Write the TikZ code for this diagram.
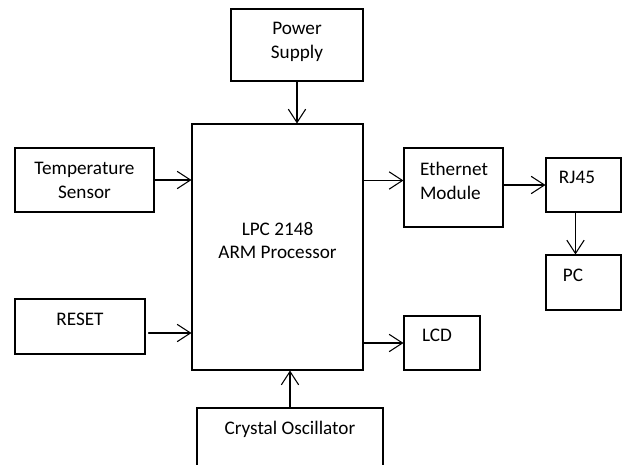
\documentclass[tikz,border=0pt]{standalone}
\usepackage{fontspec}
\setmainfont{Carlito}
\usetikzlibrary{arrows.meta,calc}
\tikzset{blk/.style 2 args={rectangle,draw,line width=.8pt,inner sep=0pt,minimum width=#1*0.75pt,minimum height=#2*0.75pt},lbl/.style={align=center,inner sep=0pt,font=\fontsize{14.4}{17.5}\selectfont},flow/.style={-{Straight Barb[length=10pt,width=13pt]},line width=.8pt},every picture/.style={line cap=round}}

\begin{document}
\begin{tikzpicture}[x=.75pt,y=-.75pt]
\useasboundingbox (0,0) rectangle (626,465);
% blocks
\node[blk={132}{72}] (psu) at (297,45) {};
\node[blk={171}{246}] (proc) at (277.5,247) {};
\node[blk={139}{64}] (temp) at (84.5,180) {};
\node[blk={99}{79}] (eth) at (453.5,187.5) {};
\node[blk={75}{54}] (rj) at (583.5,185) {};
\node[blk={75}{55}] (pc) at (583.5,282.5) {};
\node[blk={130}{55}] (reset) at (80,326.5) {};
\node[blk={76}{54}] (lcd) at (442,343) {};
\node[blk={186}{67}] (xtal) at (290,441.5) {};
% texts
\node[lbl] (psuT) at (297,42) {Power\\Supply};
\node[lbl] (procT) at (277.5,240.5) {LPC 2148\\ARM Processor};
\node[lbl] (tempT) at (84.5,180.5) {Temperature\\Sensor};
\node[lbl,align=left] (ethT) at (454,181) {Ethernet\\Module};
\node[lbl] (rjT) at (577,177) {RJ45};
\node[lbl] (pcT) at (573,275) {PC};
\node[lbl] (resetT) at (80,319) {RESET};
\node[lbl] (lcdT) at (437,335) {LCD};
\node[lbl] (xtalT) at (290,429) {Crystal Oscillator};
% connectors
\coordinate (ethIn) at ($(eth.west)+(0,-7)$);
\coordinate (rjOut) at ($(rj.south)+(-8,0)$);
\coordinate (resetOut) at ($(reset.east)+(3,6.5)$);
\draw[flow] (psu.south) -- (psu.south |- proc.north);
\draw[flow] (temp.east) -- (temp.east -| proc.west);
\draw[flow] (proc.east |- ethIn) -- (ethIn);
\draw[flow] (eth.east |- rj.west) -- (rj.west);
\draw[flow] (rjOut) -- (rjOut |- pc.north);
\draw[flow] (resetOut) -- (resetOut -| proc.west);
\draw[flow] (proc.east |- lcd.west) -- (lcd.west);
\draw[flow] (xtal.north) -- (xtal.north |- proc.south);
\end{tikzpicture}
\end{document}
